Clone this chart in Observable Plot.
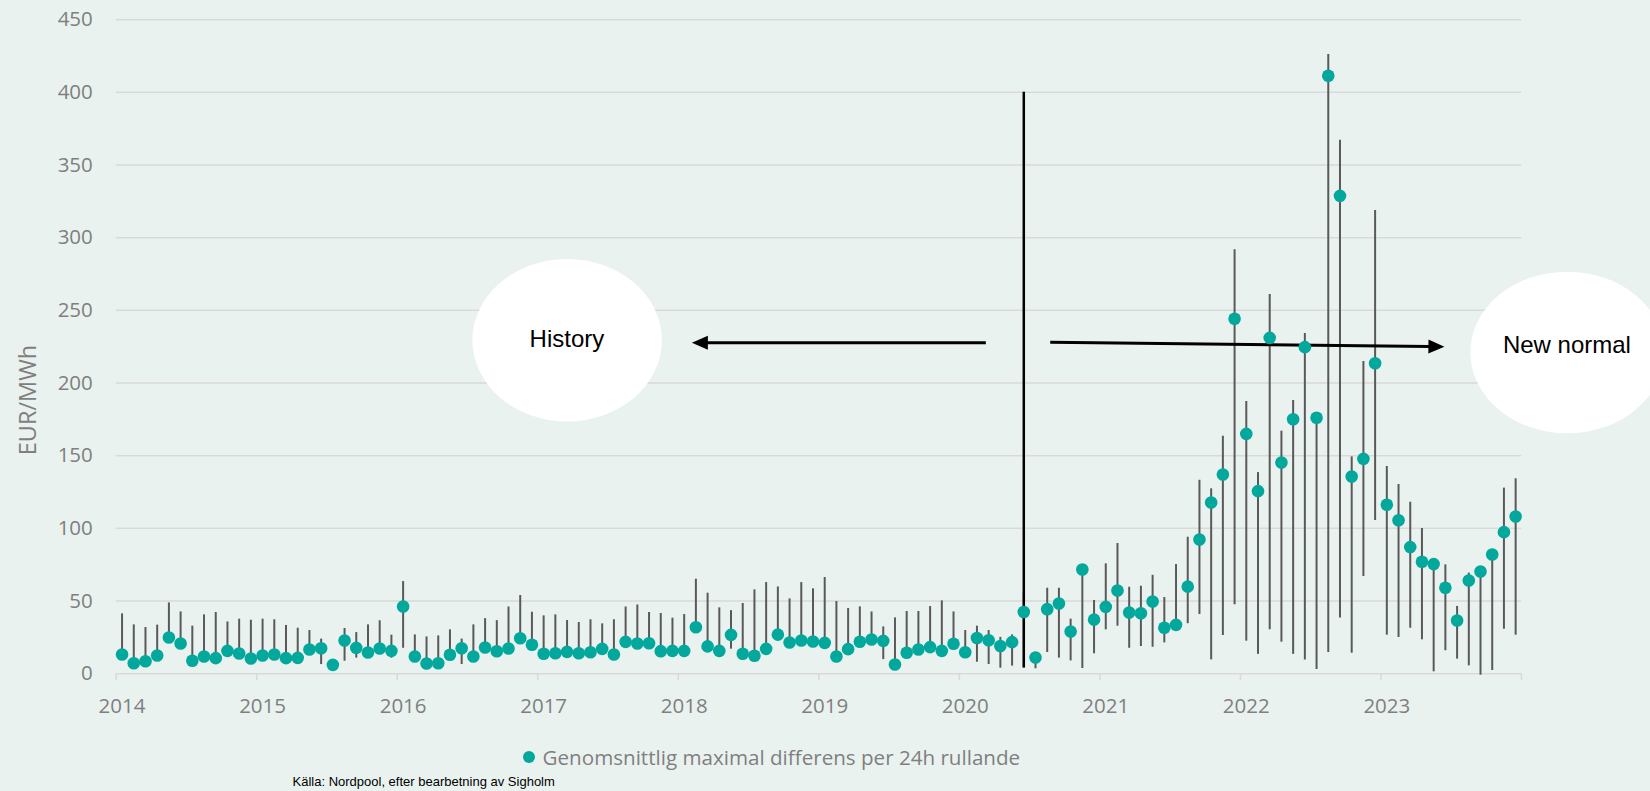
<!DOCTYPE html>
<html>
<head>
<meta charset="utf-8">
<script src="https://cdn.jsdelivr.net/npm/d3@7"></script>
<script src="https://cdn.jsdelivr.net/npm/@observablehq/plot@0.6"></script>
<style>
  html, body { margin: 0; padding: 0; background: #EAF2EF; overflow: hidden; }
  #wrap { position: relative; width: 1650px; height: 791px; overflow: hidden; background: #EAF2EF; }
  #legend { position: absolute; left: 523px; top: 742px; height: 30px; display: flex; align-items: center;
            font-family: 'Open Sans', sans-serif; font-size: 20.6px; color: #7f7f7f; white-space: nowrap; }
  #legend .sw { width: 12.4px; height: 12.4px; border-radius: 50%; background: #03A89D; margin-right: 7.2px; }
  #caption { position: absolute; left: 292.5px; top: 774px; font-family: 'Liberation Sans', Arial, sans-serif;
             font-size: 13px; line-height: 16px; color: #000; white-space: nowrap; }
</style>
</head>
<body>
<div id="wrap">
  <div id="chart"></div>
  <div id="legend"><span class="sw"></span><span>Genomsnittlig maximal differens per 24h rullande</span></div>
  <div id="caption">Källa: Nordpool, efter bearbetning av Sigholm</div>
</div>
<script>
// ---- data (month index 0 = Jan 2014 ... 119 = Dec 2023) ----
const years = [2014, 2015, 2016, 2017, 2018, 2019, 2020, 2021, 2022, 2023];
const yTicks = [0, 50, 100, 150, 200, 250, 300, 350, 400, 450];

const meanVals = [
  13.2, 7.2, 8.6, 12.5, 24.9, 20.8, 8.9, 11.8, 10.7, 15.7, 13.9, 10.5,
  12.5, 13.2, 10.7, 10.9, 16.6, 17.5, 6.1, 22.8, 17.8, 14.6, 17.3, 15.7,
  46.2, 11.8, 7.0, 7.2, 13.0, 17.5, 11.8, 18.0, 15.4, 17.3, 24.4, 19.9,
  13.7, 14.1, 15.0, 14.1, 14.8, 17.1, 13.2, 21.9, 20.8, 21.0, 15.5, 15.7,
  15.7, 32.0, 18.8, 15.7, 26.7, 13.7, 12.3, 17.1, 26.9, 21.5, 22.8, 22.2,
  21.2, 11.8, 16.9, 22.0, 23.5, 22.6, 6.3, 14.4, 16.6, 18.3, 15.7, 20.6,
  14.8, 24.6, 23.0, 19.1, 21.7, 42.5, 11.1, 44.4, 48.3, 29.0, 71.7, 37.2,
  46.0, 57.2, 42.1, 41.6, 49.7, 31.6, 33.6, 59.9, 92.3, 117.8, 137.1, 244.2,
  165.0, 125.6, 231.1, 145.3, 175.1, 224.7, 176.1, 411.4, 328.8, 135.7, 147.8, 213.6,
  116.2, 105.6, 87.1, 77.0, 75.4, 59.1, 36.6, 64.1, 70.3, 82.0, 97.4, 108.2
];
const maxVals = [
  41.2, 33.6, 31.8, 33.4, 48.7, 42.5, 32.7, 40.5, 42.1, 35.6, 37.5, 36.8,
  37.5, 37.1, 33.2, 31.3, 29.7, 23.8, 8.0, 31.1, 28.3, 33.6, 36.4, 26.5,
  63.4, 26.7, 25.3, 26.0, 30.2, 23.8, 33.6, 37.9, 36.5, 45.9, 53.8, 42.3,
  39.8, 40.5, 36.6, 35.2, 37.1, 34.3, 37.1, 45.9, 47.3, 42.1, 41.4, 38.2,
  40.7, 65.0, 55.4, 45.3, 43.4, 48.3, 57.7, 62.7, 59.7, 51.5, 62.7, 58.4,
  66.2, 49.7, 44.9, 46.0, 42.5, 32.2, 38.4, 42.8, 42.8, 46.2, 50.1, 42.5,
  29.7, 32.7, 29.7, 25.0, 26.7, 56.0, 13.0, 58.8, 58.8, 37.5, 74.0, 50.4,
  75.6, 89.6, 59.5, 60.2, 67.7, 52.4, 75.1, 93.9, 133.1, 127.2, 163.4, 291.7,
  187.3, 138.4, 260.9, 166.9, 188.0, 234.1, 179.0, 426.0, 367.1, 149.2, 214.8, 318.7,
  142.6, 130.2, 118.0, 99.9, 77.5, 74.9, 46.3, 69.2, 72.5, 84.0, 127.7, 134.1
];
const minVals = [
  10.5, 5.0, 6.0, 10.0, 22.0, 18.0, 6.5, 9.5, 8.5, 13.0, 11.5, 8.0,
  10.0, 11.0, 8.5, 8.5, 14.0, 6.3, 4.0, 8.6, 10.7, 12.0, 15.0, 10.7,
  17.5, 9.5, 5.0, 5.0, 10.5, 6.3, 9.5, 15.5, 13.0, 15.0, 22.0, 17.5,
  11.5, 12.0, 12.5, 12.0, 12.5, 15.0, 11.0, 19.5, 18.5, 18.5, 13.0, 13.0,
  13.0, 29.5, 16.5, 13.0, 16.9, 11.5, 10.0, 15.0, 24.5, 19.0, 20.5, 20.0,
  19.0, 9.5, 14.5, 19.5, 21.0, 9.7, 4.0, 12.0, 14.0, 16.0, 13.0, 18.0,
  12.5, 7.9, 6.3, 3.8, 5.2, 4.0, 3.4, 14.6, 10.7, 8.8, 3.6, 13.7,
  30.2, 32.7, 17.5, 18.7, 18.2, 21.2, 31.0, 34.4, 40.7, 9.5, 26.3, 47.4,
  22.4, 13.3, 30.2, 21.7, 13.3, 9.5, 2.9, 14.6, 38.4, 14.1, 66.9, 105.4,
  26.5, 24.9, 31.3, 23.3, 1.3, 15.8, 10.0, 5.4, -1.0, 2.2, 30.6, 26.5
];

// ---- annotations (in data units: month index, EUR/MWh) ----
const splitLine = [{ i: 77, from: 4, to: 400 }];
const bubbles = [
  { label: "History",    ci: 38.05, cv: 229.1, ri: 8.09, rv: 55.9, ti: 38.03, tv: 224.7 },
  { label: "New normal", ci: 123.45, cv: 220.7, ri: 8.28, rv: 55.6, ti: 123.42, tv: 220.1 }
];
const arrows = [
  { i1: 73.8, v1: 227.4, i2: 48.7, v2: 227.4 },
  { i1: 79.3, v1: 227.7, i2: 112.96, v2: 224.7 }
];

const data = meanVals.map((m, i) => ({ i, mean: m, hi: maxVals[i], lo: minVals[i] }));
const boundaries = d3.range(0, 11).map(k => k * 12 - 0.5);
const labelIdx = years.map((y, k) => k * 12);

function underMarks(index, scales) {
  const g = d3.create("svg:g");
  for (const b of bubbles) {
    const cx = scales.x(b.ci), cy = scales.y(b.cv);
    const rx = Math.abs(scales.x(b.ci + b.ri) - cx);
    const ry = Math.abs(scales.y(b.cv + b.rv) - cy);
    g.append("ellipse").attr("cx", cx).attr("cy", cy).attr("rx", rx).attr("ry", ry).attr("fill", "#ffffff");
  }
  return g.node();
}

function overMarks(index, scales) {
  const g = d3.create("svg:g");
  for (const a of arrows) {
    const x1 = scales.x(a.i1), y1 = scales.y(a.v1), x2 = scales.x(a.i2), y2 = scales.y(a.v2);
    const dx = x2 - x1, dy = y2 - y1, L = Math.hypot(dx, dy), ux = dx / L, uy = dy / L;
    const hl = 16, hw = 7;
    const bx = x2 - ux * hl, by = y2 - uy * hl;
    g.append("line").attr("x1", x1).attr("y1", y1).attr("x2", bx + ux * 1).attr("y2", by + uy * 1)
      .attr("stroke", "#000").attr("stroke-width", 3);
    g.append("path")
      .attr("d", `M${x2},${y2}L${bx - uy * hw},${by + ux * hw}L${bx + uy * hw},${by - ux * hw}Z`)
      .attr("fill", "#000");
  }
  for (const b of bubbles) {
    g.append("text").attr("x", scales.x(b.ti)).attr("y", scales.y(b.tv))
      .attr("text-anchor", "middle").attr("fill", "#000")
      .attr("font-family", "'Liberation Sans', Arial, sans-serif").attr("font-size", 24)
      .text(b.label);
  }
  g.append("text")
    .attr("transform", "translate(36,400) rotate(-90)")
    .attr("text-anchor", "middle").attr("fill", "#7f7f7f")
    .attr("font-family", "'Open Sans', sans-serif").attr("font-size", 23.5)
    .text("EUR/MWh");
  return g.node();
}

const chart = Plot.plot({
  width: 1650,
  height: 730,
  marginLeft: 115.7,
  marginRight: 129,
  marginTop: 19.2,
  marginBottom: 56.8,
  x: { type: "linear", domain: [-0.5, 119.5], label: null },
  y: { domain: [0, 450], label: null },
  style: { background: "transparent", fontFamily: "'Open Sans', sans-serif", fontSize: "20.5px", color: "#7f7f7f" },
  marks: [
    Plot.gridY(yTicks, { stroke: "#d9d9d9", strokeOpacity: 1, strokeWidth: 1.5 }),
    Plot.axisY({ ticks: yTicks, tickSize: 0, tickPadding: 23.4, label: null, fill: "#7f7f7f" }),
    Plot.axisX({ ticks: boundaries, tickSize: 7, tickFormat: () => "", stroke: "#d9d9d9", strokeWidth: 1.5, label: null }),
    Plot.axisX({ ticks: labelIdx, tickSize: 0, tickPadding: 24.5, tickFormat: i => String(years[Math.round(i / 12)]), label: null, fill: "#7f7f7f" }),
    underMarks,
    Plot.ruleX(data, { x: "i", y1: "lo", y2: "hi", stroke: "#595959", strokeWidth: 2 }),
    Plot.ruleX(splitLine, { x: "i", y1: "from", y2: "to", stroke: "#000", strokeWidth: 2.5 }),
    overMarks,
    Plot.dot(data, { x: "i", y: "mean", r: 6.3, fill: "#03A89D" })
  ]
});
document.getElementById("chart").appendChild(chart);
</script>
</body>
</html>
